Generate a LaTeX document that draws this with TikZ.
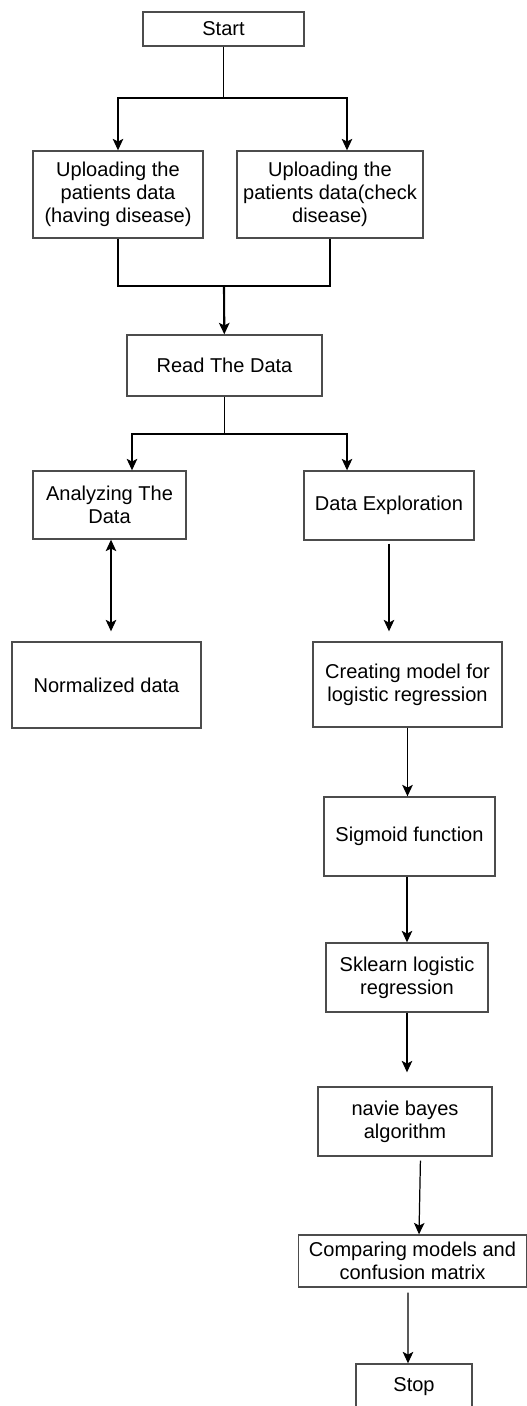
\documentclass[tikz,border=0pt]{standalone}
\usepackage{fontspec}
\setmainfont{Liberation Sans}
\usepackage{tikz}
\usetikzlibrary{shapes,arrows.meta}
\tikzstyle{block} = [rectangle, draw=black!70, line width=0.8pt, align=center,
    inner sep=0pt, font=\fontsize{11.4}{13.2}\selectfont]
\tikzstyle{line} = [draw, line width=0.7pt, -{Stealth[length=6.5pt,width=6pt,inset=1.5pt]}]
\tikzstyle{dline} = [line, {Stealth[length=6.5pt,width=6pt,inset=1.5pt]}-{Stealth[length=6.5pt,width=6pt,inset=1.5pt]}]
\tikzstyle{plain} = [draw, line width=0.7pt]

\begin{document}
\begin{tikzpicture}[x=0.02cm, y=-0.02cm]
    \useasboundingbox (0,0) rectangle (527,1406);
    % Place nodes
    \node [block, minimum width=3.22cm, minimum height=0.68cm] (start) at (223.5,29) {Start};
    \node [block, minimum width=3.4cm, minimum height=1.74cm] (up1) at (118,194.5) {Uploading the\\patients data\\(having disease)};
    \node [block, minimum width=3.72cm, minimum height=1.74cm] (up2) at (330,194.5) {Uploading the\\patients data(check\\disease)};
    \node [block, minimum width=3.9cm, minimum height=1.22cm] (read) at (224.5,365.5) {Read The Data};
    \node [block, minimum width=3.06cm, minimum height=1.36cm] (ana) at (109.5,505) {Analyzing The\\Data};
    \node [block, minimum width=3.4cm, minimum height=1.38cm] (expl) at (389,505.5) {Data Exploration};
    \node [block, minimum width=3.78cm, minimum height=1.72cm] (norm) at (106.5,685) {Normalized data};
    \node [block, minimum width=3.78cm, minimum height=1.7cm] (creat) at (407.5,684.5) {Creating model for\\logistic regression};
    \node [block, minimum width=3.42cm, minimum height=1.58cm] (sig) at (409.5,836.5) {Sigmoid function};
    \node [block, minimum width=3.24cm, minimum height=1.38cm] (skl) at (407,977.5) {Sklearn logistic\\regression};
    \node [block, minimum width=3.48cm, minimum height=1.38cm] (nav) at (405,1121.5) {navie bayes\\algorithm};
    \node [block, minimum width=4.56cm, minimum height=1.04cm] (comp) at (412.5,1261) {Comparing models and\\confusion matrix};
    \node [block, minimum width=2.32cm, minimum height=0.92cm] (stop) at (414,1387) {Stop};
    \coordinate (fork1) at (223.5,98);
    \coordinate (merge) at (224,286);
    \coordinate (fork2) at (224.5,434);
    % Draw edges
    \path [plain] (start) -- (fork1);
    \path [line] (fork1) -| (up1);
    \path [line] (fork1) -| ([xshift=0.34cm]up2.north);
    \path [plain] (up1.south) |- (merge) -| (up2.south);
    \path [line, line width=1.2pt] (merge) -- (read);
    \path [plain] (read) -- (fork2);
    \path [line] (fork2) -| ([xshift=0.45cm]ana.north);
    \path [line] (fork2) -| ([xshift=-0.84cm]expl.north);
    \path [dline, shorten >=0.2cm] ([xshift=0.03cm]ana.south) -- ([xshift=0.03cm]ana.south |- norm.north);
    \path [line, shorten <=0.06cm, shorten >=0.2cm] (expl.south) -- (expl.south |- creat.north);
    \path [line] (creat.south) -- (creat.south |- sig.north);
    \path [line] (skl.north |- sig.south) -- (skl.north);
    \path [line, shorten >=0.28cm] (skl.south) -- (skl.south |- nav.north);
    \path [line, shorten <=0.08cm] ([xshift=0.31cm]nav.south) -- ([xshift=0.13cm]comp.north);
    \path [line, shorten <=0.1cm] ([xshift=-0.09cm]comp.south) -- ([xshift=-0.12cm]stop.north);
\end{tikzpicture}
\end{document}
